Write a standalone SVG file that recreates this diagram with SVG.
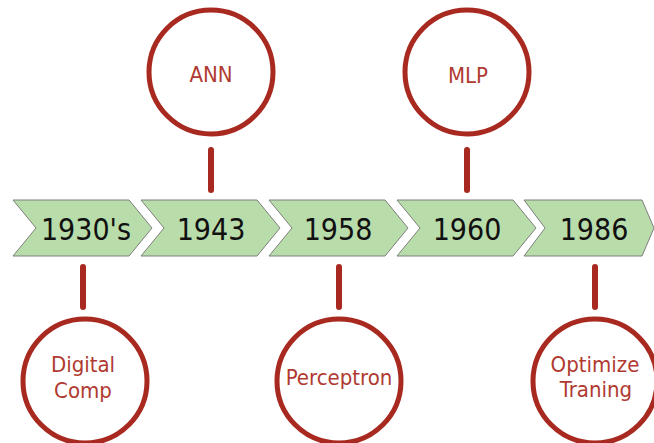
<svg xmlns="http://www.w3.org/2000/svg" width="654" height="443" viewBox="0 0 654 443">
<style>
.chev{fill:#b9dcab;stroke:#7f7f7f;stroke-width:1}
.yr{font-family:"DejaVu Sans Condensed","DejaVu Sans",sans-serif;font-stretch:condensed;font-size:30px;fill:#111;text-anchor:middle}
.ring{fill:#fff;stroke:#a8291f;stroke-width:5}
.lbl{font-family:"DejaVu Sans Condensed","DejaVu Sans",sans-serif;font-stretch:condensed;font-size:22px;fill:#b03a31;text-anchor:middle}
.conn{stroke:#a8291f;stroke-width:6;stroke-linecap:round}
</style>
<rect width="654" height="443" fill="#fff"/>
<g id="y1930">
<polygon class="chev" points="13,200 129,200 152,228 129,256 13,256 36,228"/>
<text class="yr" x="86" y="240">1930's</text>
</g>
<g id="y1943">
<polygon class="chev" points="141,200 257,200 280,228 257,256 141,256 164,228"/>
<text class="yr" x="211" y="240">1943</text>
</g>
<g id="y1958">
<polygon class="chev" points="269,200 385,200 408,228 385,256 269,256 292,228"/>
<text class="yr" x="338" y="240">1958</text>
</g>
<g id="y1960">
<polygon class="chev" points="397,200 513,200 536,228 513,256 397,256 420,228"/>
<text class="yr" x="467" y="240">1960</text>
</g>
<g id="y1986">
<polygon class="chev" points="524,200 642,200 654,228 642,256 524,256 545,228"/>
<text class="yr" x="594" y="240">1986</text>
</g>
<g id="connectors">
<line class="conn" x1="211" y1="150" x2="211" y2="190"/>
<line class="conn" x1="467" y1="150" x2="467" y2="190"/>
<line class="conn" x1="83" y1="267" x2="83" y2="307"/>
<line class="conn" x1="339" y1="267" x2="339" y2="307"/>
<line class="conn" x1="595" y1="267" x2="595" y2="307"/>
</g>
<g id="ann">
<circle class="ring" cx="211" cy="72" r="62"/>
<text class="lbl" x="211" y="82">ANN</text>
</g>
<g id="mlp">
<circle class="ring" cx="467" cy="72" r="62"/>
<text class="lbl" x="468" y="83">MLP</text>
</g>
<g id="digital">
<circle class="ring" cx="85" cy="381" r="62"/>
<text class="lbl" x="83" y="372">Digital</text>
<text class="lbl" x="83" y="398">Comp</text>
</g>
<g id="perceptron">
<circle class="ring" cx="339" cy="381" r="62"/>
<text class="lbl" x="339" y="385">Perceptron</text>
</g>
<g id="optimize">
<circle class="ring" cx="595" cy="381" r="62"/>
<text class="lbl" x="595" y="372">Optimize</text>
<text class="lbl" x="596" y="397">Traning</text>
</g>
</svg>
